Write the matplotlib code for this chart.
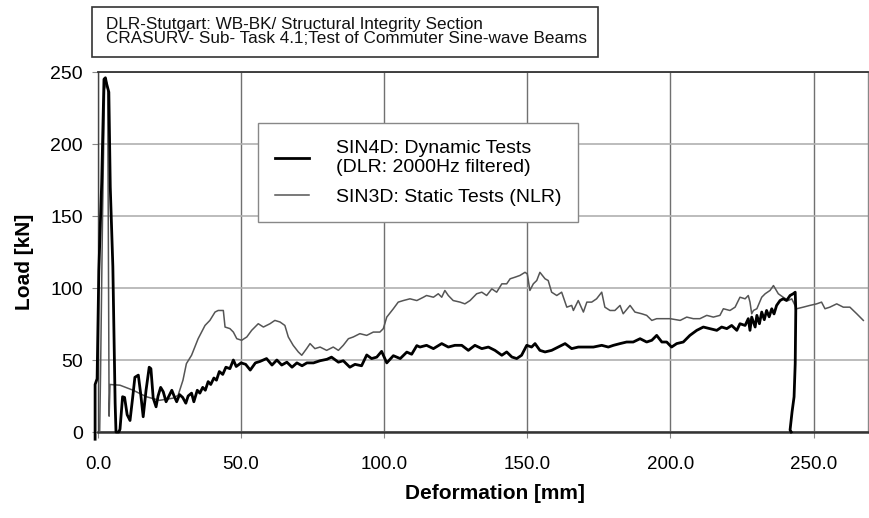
import matplotlib.pyplot as plt
from matplotlib.patches import Rectangle

plt.rcParams['font.family'] = ['Liberation Sans', 'DejaVu Sans']

# SIN4D dynamic test (deformation mm, load kN)
dyn_x = [-1.0, -1.0, -0.3, 0.3, 1.3, 2.1, 2.6, 3.0, 3.8, 4.3, 5.2, 6.0, 6.3, 7.3, 7.7,
         8.6, 9.3, 10.2, 11.2, 12.1, 12.9, 14.1, 14.9, 15.8, 16.8, 17.9, 18.5, 19.3, 20.3,
         21.0, 21.9, 22.8, 23.8, 24.8, 25.8, 26.6, 27.5, 28.5, 29.6, 30.7, 31.5, 32.7,
         33.5, 34.7, 35.6, 36.6, 37.5, 38.5, 39.4, 40.5, 41.4, 42.4, 43.6, 44.7, 46.1,
         47.3, 48.3, 50.0, 51.6, 53.2, 55.0, 56.6, 58.9, 60.8, 62.5, 64.2, 66.0, 67.8,
         69.5, 71.3, 73.0, 75.3, 77.6, 80.0, 81.6, 84.0, 85.7, 88.0, 89.8, 92.1, 93.9,
         95.6, 97.4, 99.1, 100.9, 103.2, 105.6, 107.9, 109.6, 111.4, 112.5, 114.8, 117.2,
         120.1, 122.4, 124.7, 127.1, 129.4, 131.7, 134.1, 136.4, 138.7, 141.1, 142.8,
         144.6, 146.3, 148.0, 149.8, 151.5, 152.7, 154.4, 156.2, 158.5, 160.8, 163.2,
         165.5, 167.8, 170.8, 173.1, 176.0, 178.3, 180.1, 182.4, 184.7, 187.0, 189.4,
         191.7, 193.5, 195.2, 197.0, 198.7, 200.4, 202.2, 204.5, 206.8, 209.2, 211.5,
         213.8, 216.2, 217.9, 219.7, 221.4, 223.2, 224.3, 226.1, 227.2, 227.8, 228.4,
         229.6, 230.2, 231.1, 231.9, 232.8, 233.6, 234.5, 235.4, 236.2, 237.1, 238.3,
         239.4, 240.6, 241.8, 242.9, 243.6, 243.8, 243.6, 243.2, 242.5, 241.8, 242.2]
dyn_y = [-5, 33, 37, 112, 173, 245, 246, 242, 236, 170, 115, 20, 0, 0, 2,
         24.5, 24, 12, 8, 23.5, 38, 39.5, 27, 10.6, 29, 45, 44, 23.5, 17.5,
         25, 31, 28, 21, 25, 29, 25, 21, 26, 24, 20, 25, 27,
         21, 29, 27, 31, 29, 35, 33, 37.5, 36, 42, 40, 45, 44,
         50, 45.5, 48, 47, 43, 48, 49, 51, 46.5, 50, 46.5, 48.5, 45,
         48, 46, 48, 48, 49.5, 50.5, 52, 48.5, 49.5, 45, 47, 46, 53.5,
         51, 52, 56, 48, 53, 51, 55.5, 54, 60, 59, 60.2, 57.9,
         61.4, 59, 60.2, 60.2, 56.7, 60.2, 57.9, 59, 56.7, 53.3, 55.6,
         52.1, 51, 53.3, 60.2, 59, 61.4, 56.7, 55.6, 56.7, 59, 61.4,
         57.9, 59, 59, 59, 60.2, 59, 60.2, 61.4, 62.5, 62.5, 64.8,
         62.5, 63.7, 67.1, 62.5, 62.5, 59, 61.4, 62.5, 67.1, 70.6, 72.9,
         71.8, 70.6, 72.9, 71.8, 74, 70.6, 75.2, 74, 78.7, 70.6, 79.8,
         72.9, 81, 75.2, 83.3, 78, 84.4, 80, 85.6, 82, 87.9, 91.3,
         92.5, 91.3, 94.8, 96, 97.1, 84.4, 47.5, 24.4, 14, 1.4, 0]

# SIN3D static test (NLR)
sta_x = [0.6, 0.9, 1.6, 2.3, 3.0, 3.4, 3.9, 4.2, 7.7, 12.3, 16.9, 21.5, 26.2, 28.0,
         29.7, 30.9, 32.7, 35.0, 37.4, 39.1, 40.9, 42.0, 43.8, 44.4, 46.1, 47.3, 48.5,
         50.2, 52.0, 53.7, 56.0, 57.8, 60.1, 61.8, 63.6, 65.3, 66.5, 68.2, 70.0, 71.2,
         72.9, 74.1, 75.8, 77.6, 79.9, 82.2, 84.0, 85.7, 87.5, 89.2, 91.5, 93.9, 96.2,
         98.5, 99.7, 100.9, 103.2, 104.9, 106.7, 109.0, 111.4, 113.7, 114.8, 117.2,
         118.9, 120.1, 121.2, 122.4, 124.1, 126.5, 128.2, 130.0, 132.3, 134.1, 135.8,
         137.6, 139.3, 141.1, 142.8, 144.0, 145.7, 147.4, 149.2, 150.0, 150.9, 152.1,
         153.3, 154.4, 156.2, 157.3, 158.5, 160.3, 162.0, 163.8, 165.5, 166.1, 167.8,
         169.6, 170.8, 172.5, 174.2, 176.0, 177.1, 178.9, 180.6, 182.4, 183.5, 185.9,
         187.6, 190.0, 191.7, 193.5, 195.2, 197.5, 199.9, 203.4, 205.7, 208.0, 210.3,
         212.7, 215.0, 217.3, 218.5, 220.8, 222.6, 224.3, 226.1, 227.2, 227.8, 228.4,
         229.0, 230.2, 231.9, 233.1, 234.8, 236.0, 237.7, 239.4, 241.2, 242.4, 244.1,
         246.4, 248.7, 251.1, 252.8, 254.0, 255.7, 258.1, 260.4, 262.7, 265.1, 267.4]
sta_y = [0, 40, 150, 238, 243, 238, 11, 33, 32.5, 29, 24.5, 22, 23.5, 25.5,
         36, 47.5, 53.3, 64.8, 74, 77.5, 83.3, 84.4, 84.4, 72.9, 71.8, 69.4, 64.8,
         63.7, 66, 70.6, 75.2, 72.9, 75.2, 77.5, 76.4, 74, 66, 60.2, 55.6, 53.3,
         57.9, 61.4, 57.9, 59, 56.7, 59, 56.7, 60.2, 64.8, 66, 68.3, 67.1, 69.4,
         69.4, 71.8, 79.8, 85.6, 90.2, 91.3, 92.5, 91.3, 93.6, 94.8, 93.6,
         96, 93.6, 98.3, 94.8, 91.3, 90.2, 89, 91.3, 96, 97.1, 94.8,
         99.4, 97.1, 102.9, 102.9, 106.4, 107.5, 108.7, 110.9, 109.8, 98.3, 102.9,
         105.2, 110.9, 106.4, 105.2, 97.1, 94.8, 97.1, 86.7, 87.9, 84.4, 91.3,
         83.3, 90.2, 90.2, 92.5, 97.1, 86.7, 84.4, 84.4, 87.9, 82.1, 87.9,
         83.3, 82.1, 81, 77.5, 78.7, 78.7, 78.7, 77.5, 79.8, 78.7, 78.7,
         81, 79.8, 81, 85.6, 84.4, 86.7, 93.6, 92.5, 94.8, 90.2, 82.1,
         84.4, 85.6, 93.6, 96, 98.3, 101.7, 96, 93.6, 91.3, 92.5, 85.6,
         86.7, 87.9, 89, 90.2, 85.6, 86.7, 89, 86.7, 86.7, 82.1, 77.5]

x_ticks = [0, 50, 100, 150, 200, 250]
y_ticks = [0, 50, 100, 150, 200, 250]

fig = plt.figure(figsize=(8.7, 5.18), dpi=100)
ax = fig.add_axes([0.1126, 0.166, 0.885, 0.695])

ax.plot(dyn_x, dyn_y, color='black', linewidth=2.0, clip_on=False, zorder=4,
        label='SIN4D: Dynamic Tests\n(DLR: 2000Hz filtered)')
ax.plot(sta_x, sta_y, color='#555555', linewidth=1.1, zorder=3,
        label='SIN3D: Static Tests (NLR)')

ax.set_xlim(0, 269)
ax.set_ylim(0, 250)
ax.set_xticks(x_ticks)
ax.set_xticklabels([f'{v:.1f}' for v in x_ticks])
ax.set_yticks(y_ticks)
ax.set_yticklabels([str(v) for v in y_ticks])
ax.tick_params(axis='x', direction='out', length=4, color='#888888', labelsize=13.5, pad=13)
ax.tick_params(axis='y', direction='out', length=4, color='#888888', labelsize=14, pad=7)

ax.xaxis.grid(True, color='#707070', linewidth=1.0)
ax.yaxis.grid(True, color='#b0b0b0', linewidth=1.2)
ax.set_axisbelow(True)

ax.spines['top'].set_color('#333333')
ax.spines['top'].set_linewidth(1.3)
ax.spines['bottom'].set_color('#333333')
ax.spines['bottom'].set_linewidth(1.8)
ax.spines['left'].set_color('#444444')
ax.spines['left'].set_linewidth(1.0)
ax.spines['right'].set_color('#888888')
ax.spines['right'].set_linewidth(1.0)

ax.set_xlabel('Deformation [mm]', fontsize=15, fontweight='bold')
ax.xaxis.set_label_coords(0.516, -0.172)
ax.xaxis.label.set_va('center')
ax.set_ylabel('Load [kN]', fontsize=15, fontweight='bold')
ax.yaxis.set_label_coords(-0.095, 0.472)
ax.yaxis.label.set_va('center')

leg = ax.legend(loc='upper left', bbox_to_anchor=(0.208, 0.858), borderaxespad=0,
                fontsize=14, frameon=True, fancybox=False, framealpha=1,
                edgecolor='#888888', handlelength=1.75, handletextpad=1.4,
                borderpad=0.85, labelspacing=0.6)
leg.get_frame().set_linewidth(1.0)

# header box
fig.patches.append(Rectangle((92 / 870, 1 - 57 / 518), 506 / 870, 50 / 518,
                             transform=fig.transFigure, facecolor='white',
                             edgecolor='#333333', linewidth=1.2))
fig.text(106 / 870, 1 - 31.5 / 518,
         'DLR-Stutgart: WB-BK/ Structural Integrity Section\n'
         'CRASURV- Sub- Task 4.1;Test of Commuter Sine-wave Beams',
         fontsize=12.3, va='center', ha='left', linespacing=0.95, color='#111111')

fig.savefig('out.png', dpi=100)
